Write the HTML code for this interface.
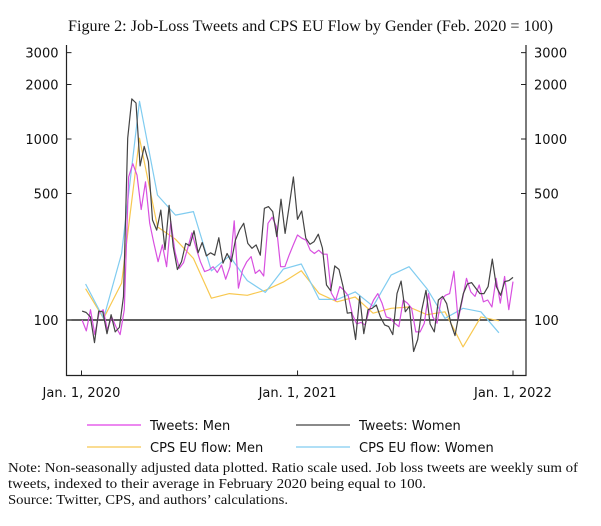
<!DOCTYPE html>
<html><head><meta charset="utf-8">
<style>
body{margin:0;background:#fff;width:601px;height:526px;overflow:hidden}
svg{display:block}
.t{font-family:"DejaVu Sans","Liberation Sans",sans-serif;font-size:13px;fill:#111}
.s{font-family:"Liberation Serif",serif;fill:#111}
</style></head><body>
<svg id="chart" width="601" height="526" viewBox="0 0 601 526">
<text class="s" x="68" y="31" textLength="485" lengthAdjust="spacingAndGlyphs" font-size="16">Figure 2: Job-Loss Tweets and CPS EU Flow by Gender (Feb. 2020 = 100)</text>
<g id="axes"></g>
<g id="series"></g>
<g id="legend">
 <line x1="87" y1="425" x2="141" y2="425" stroke="#e040e8" stroke-width="1.3"/>
 <text class="t" x="150" y="430">Tweets: Men</text>
 <line x1="296" y1="425" x2="350" y2="425" stroke="#444" stroke-width="1.3"/>
 <text class="t" x="359" y="430">Tweets: Women</text>
 <line x1="87" y1="447" x2="141" y2="447" stroke="#f8c850" stroke-width="1.3"/>
 <text class="t" x="150" y="452">CPS EU flow: Men</text>
 <line x1="296" y1="447" x2="350" y2="447" stroke="#80ccf0" stroke-width="1.3"/>
 <text class="t" x="359" y="452">CPS EU flow: Women</text>
</g>
<g>
<text class="s" x="8" y="472" font-size="14" textLength="570" lengthAdjust="spacingAndGlyphs">Note: Non-seasonally adjusted data plotted. Ratio scale used. Job loss tweets are weekly sum of</text>
<text class="s" x="8" y="488" font-size="14" textLength="418" lengthAdjust="spacingAndGlyphs">tweets, indexed to their average in February 2020 being equal to 100.</text>
<text class="s" x="8" y="504" font-size="14" textLength="280" lengthAdjust="spacingAndGlyphs">Source: Twitter, CPS, and authors’ calculations.</text>
</g>
</svg>
<script>
const yTicks=[100,500,1000,2000,3000];
const xTickLabels=["Jan. 1, 2020","Jan. 1, 2021","Jan. 1, 2022"];
const tweetsWomen=[112,110,104,75,112,111,84,107,86,91,135,1010,1665,1580,710,910,750,357,314,405,245,430,254,190,210,265,257,311,235,268,226,235,228,285,206,233,210,276,314,342,265,249,260,228,414,423,397,289,465,301,430,617,360,400,283,262,271,298,250,156,145,199,190,153,109,110,78,135,84,114,116,121,104,94,92,83,140,164,111,119,67,78,114,146,95,86,129,135,123,96,82,109,140,158,161,150,140,140,153,217,153,137,163,165,172];
const tweetsMen=[100,87,114,83,109,114,88,104,92,83,114,617,730,632,408,580,342,265,210,260,197,350,238,193,207,249,303,249,210,185,189,197,183,201,168,197,353,150,189,210,224,181,189,175,342,370,328,197,197,228,260,295,283,276,243,233,243,231,231,141,128,153,146,136,107,95,97,94,114,129,140,124,104,102,96,92,129,124,116,86,86,96,140,104,96,129,137,140,186,100,129,170,143,135,156,126,129,118,170,124,174,114,163];
const cpsMen=[149,102,160,1010,327,279,219,132,140,137,146,162,187,140,126,134,109,116,118,107,111,71,104,99];
const cpsWomen=[158,102,233,1615,490,380,397,187,226,165,142,191,204,130,130,143,119,177,197,149,102,116,111,85];

const NS="http://www.w3.org/2000/svg";
const L=66.5,R=526,T=45,B=375.5;
const y=v=>320-181*Math.log10(v/100);
const xDay=d=>81.5+d*(513-81.5)/731;
const axes=document.getElementById('axes'),ser=document.getElementById('series');
function mk(tag,attrs,parent){const e=document.createElementNS(NS,tag);for(const k in attrs)e.setAttribute(k,attrs[k]);parent.appendChild(e);return e;}
let e=mk('path',{d:`M${L},${T}V${B}H${R}V${T}`,fill:'none',stroke:'#222','stroke-width':1.2},axes);


e=mk('line',{x1:L,x2:R,y1:y(100),y2:y(100),stroke:'#000','stroke-width':1.3},axes);


yTicks.forEach(v=>{
 const yy=y(v);
 mk('line',{x1:L,x2:L+5,y1:yy,y2:yy,stroke:'#222'},axes);
 mk('line',{x1:R-5,x2:R,y1:yy,y2:yy,stroke:'#222'},axes);
 let t=mk('text',{x:L-8,y:yy+5,'text-anchor':'end',class:'t'},axes);t.textContent=v;
 
 
 t=mk('text',{x:R+8,y:yy+5,class:'t'},axes);t.textContent=v;
 
 
});
xTickLabels.forEach((lab,i)=>{
 const xx=xDay(i===0?0:(i===1?366:731));
 mk('line',{x1:xx,x2:xx,y1:B,y2:B-5,stroke:'#222'},axes);
 const t=mk('text',{x:xx,y:397,'text-anchor':'middle',class:'t'},axes);t.textContent=lab;
 
 
});
function line(vals,xf,color,name){
 const d=vals.map((v,i)=>(i?'L':'M')+xf(i).toFixed(1)+','+y(v).toFixed(1)).join('');
 const p=mk('path',{d,fill:'none',stroke:color,'stroke-width':1.2,'stroke-linejoin':'round'},ser);
 
 
}
const weekX=n=>i=>xDay(1+i*(730/ n));
const monthX=i=>xDay(i*30.44+7);
line(cpsMen,monthX,'#f8c850','series-cps-men');
line(cpsWomen,monthX,'#80ccf0','series-cps-women');
line(tweetsMen,weekX(tweetsMen.length-1),'#d850e0','series-tweets-men');
line(tweetsWomen,weekX(tweetsWomen.length-1),'#444','series-tweets-women');
</script>
</body></html>
